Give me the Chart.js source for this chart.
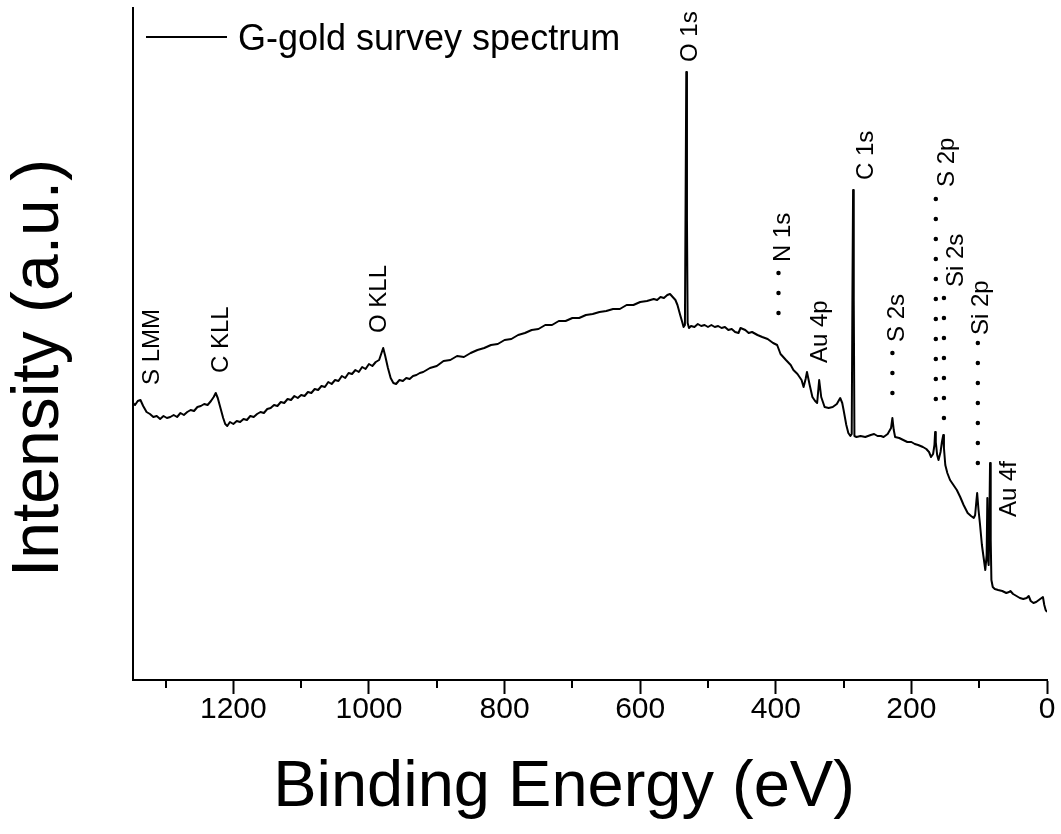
<!DOCTYPE html>
<html>
<head>
<meta charset="utf-8">
<script src="https://cdn.jsdelivr.net/npm/chart.js@4.4.0/dist/chart.umd.min.js"></script>
<style>
  html, body { margin: 0; padding: 0; background: #fff; }
  #wrap { width: 1061px; height: 834px; }
</style>
</head>
<body>
<div id="wrap"><canvas id="chart"></canvas></div>
<script>
// survey spectrum (binding energy in eV, intensity in a.u.)
const energy = [1348, 1345, 1341, 1337, 1333, 1328, 1323, 1318, 1313, 1308, 1303, 1298, 1293, 1288, 1283, 1278, 1273, 1268, 1263, 1258,
  1253, 1248, 1243, 1238, 1233, 1229, 1226, 1223, 1219, 1215, 1212, 1209, 1205, 1200, 1195, 1190, 1185, 1180, 1175, 1170,
  1165, 1160, 1155, 1150, 1145, 1140, 1135, 1130, 1125, 1120, 1115, 1110, 1105, 1100, 1095, 1090, 1085, 1080, 1075, 1070,
  1065, 1060, 1055, 1050, 1045, 1040, 1035, 1030, 1025, 1020, 1015, 1010, 1005, 1000, 995, 990, 985, 981, 979, 976,
  972, 968, 964, 960, 955, 950, 945, 940, 935, 930, 925, 920, 915, 910, 905, 900, 890, 880, 870, 860,
  850, 840, 830, 820, 810, 800, 790, 780, 770, 760, 750, 740, 730, 720, 710, 700, 690, 680, 670, 660,
  650, 640, 630, 620, 610, 600, 590, 580, 575, 570, 565, 560, 556, 552, 548, 545, 541, 538, 536, 534,
  533, 532, 531, 530, 528, 525, 520, 515, 510, 505, 500, 495, 490, 485, 480, 475, 470, 465, 460, 455,
  452, 445, 440, 435, 427, 420, 412, 404, 398, 393, 385, 378, 374, 368, 362, 359, 356, 354, 350, 346,
  342, 339, 336, 333, 328, 322, 316, 310, 305, 302, 300, 296, 293, 290, 288, 287, 286, 285, 284, 281,
  275, 268, 260, 255, 250, 245, 241, 235, 230, 228, 226, 224, 218, 212, 206, 200, 195, 190, 183, 178,
  174, 171, 168, 166, 165, 164, 162, 160, 157, 155, 153, 152, 150, 147, 143, 138, 133, 128, 123, 117,
  112, 108, 106, 104, 103, 101, 99, 96, 93, 91, 89, 88, 87, 86, 85, 84, 83, 82, 80, 77,
  72, 66, 60, 56, 54, 50, 45, 40, 35, 30, 27, 24, 20, 16, 12, 8, 6, 4, 2, 0];
const intensity = [277, 275, 279, 280, 274, 268, 266, 263, 264, 261, 264, 262, 263, 265, 263, 267, 265, 268, 270, 269,
  273, 274, 276, 275, 279, 283, 287, 282, 272, 262, 256, 254, 258, 256, 259, 258, 261, 260, 264, 263,
  266, 268, 267, 271, 272, 275, 274, 278, 277, 281, 280, 284, 282, 285, 284, 288, 287, 291, 290, 294,
  293, 298, 296, 300, 299, 304, 302, 307, 306, 310, 308, 313, 311, 316, 314, 318, 320, 328, 332, 324,
  312, 302, 297, 296, 300, 299, 302, 301, 304, 305, 307, 308, 310, 312, 313, 314, 319, 320, 324, 323,
  327, 330, 332, 335, 336, 340, 341, 345, 347, 350, 351, 355, 355, 359, 359, 362, 362, 365, 366, 368,
  369, 371, 371, 375, 375, 378, 379, 381, 380, 383, 382, 385, 386, 383, 380, 375, 365, 358, 353, 355,
  480, 608, 460, 357, 352, 354, 353, 356, 354, 355, 353, 355, 353, 354, 352, 353, 350, 351, 348, 347,
  352, 350, 347, 348, 345, 343, 341, 337, 335, 326, 320, 315, 310, 306, 300, 293, 301, 308, 295, 283,
  279, 277, 300, 283, 273, 272, 273, 276, 282, 277, 270, 255, 247, 244, 246, 380, 490, 380, 244, 243,
  244, 243, 245, 246, 244, 244, 243, 246, 252, 262, 250, 243, 242, 240, 238, 238, 236, 235, 233, 231,
  228, 223, 226, 235, 248, 238, 225, 220, 228, 238, 245, 232, 215, 207, 200, 195, 190, 183, 175, 167,
  164, 162, 165, 180, 187, 170, 157, 135, 120, 110, 125, 182, 120, 115, 160, 217, 140, 100, 93, 91,
  90, 89, 87, 88, 89, 86, 84, 82, 81, 82, 84, 79, 77, 78, 80, 82, 83, 75, 70, 68];

// x axis: labelled every 200 eV, short ticks in between
const xMin = 0;
const xMax = 1348;
const majorStep = 200;
const minorTicks = [100, 300, 500, 700, 900, 1100, 1300];

// peak labels (energy, intensity where the vertical text starts)
const peakNames = ['S LMM', 'C KLL', 'O KLL', 'O 1s', 'N 1s', 'Au 4p', 'C 1s', 'S 2s', 'S 2p', 'Si 2s', 'Si 2p', 'Au 4f'];
const peakEnergy = [1319, 1218, 985, 526, 389, 334, 266, 221, 147, 134, 97, 55];
const peakLabelY = [295, 307, 347, 618, 418, 317, 500, 338, 493, 393, 345, 163];

// dotted guide lines under some labels
const guideEnergy = [396, 228, 164, 152, 102];
const guideTop = [407, 327, 481, 382, 337];
const guideBottom = [347, 267, 261, 242, 197];

const xTitle = 'Binding Energy (eV)';
const yTitle = 'Intensity (a.u.)';

const FONT = 'Arial, "Liberation Sans", sans-serif';

const spectrum = energy.map((e, i) => ({ x: e, y: intensity[i] }));

const guideSets = guideEnergy.map((e, i) => ({
  label: 'guide' + i,
  data: [{ x: e, y: guideTop[i] }, { x: e, y: guideBottom[i] }],
  borderColor: '#000',
  borderWidth: 4.5,
  borderDash: [0, 20],
  borderCapStyle: 'round',
  pointRadius: 0,
  fill: false
}));

// peak names, minor ticks, legend and axis titles
const extras = {
  id: 'extras',
  afterDatasetsDraw(chart) {
    const { ctx, scales: { x, y } } = chart;
    ctx.save();
    ctx.fillStyle = '#000';
    ctx.font = '24px ' + FONT;
    ctx.textAlign = 'left';
    ctx.textBaseline = 'middle';
    peakNames.forEach((name, i) => {
      const px = x.getPixelForValue(peakEnergy[i]);
      const py = y.getPixelForValue(peakLabelY[i]);
      ctx.save();
      ctx.translate(px, py);
      ctx.rotate(-Math.PI / 2);
      ctx.fillText(name, 0, 0);
      ctx.restore();
    });

    // minor ticks
    ctx.strokeStyle = '#000';
    ctx.lineWidth = 2;
    const base = chart.chartArea.bottom;
    minorTicks.forEach(v => {
      const px = Math.round(x.getPixelForValue(v));
      ctx.beginPath();
      ctx.moveTo(px, base);
      ctx.lineTo(px, base + 8);
      ctx.stroke();
    });

    // legend
    const ly = 37;
    ctx.lineWidth = 2;
    ctx.beginPath();
    ctx.moveTo(146, ly);
    ctx.lineTo(227, ly);
    ctx.stroke();
    ctx.font = '36px ' + FONT;
    ctx.textBaseline = 'middle';
    ctx.fillText(chart.data.datasets[0].label, 238, ly + 3);

    // axis titles
    ctx.font = '65px ' + FONT;
    ctx.textAlign = 'center';
    ctx.textBaseline = 'alphabetic';
    ctx.fillText(xTitle, 564, 806);
    ctx.save();
    ctx.translate(58, 368);
    ctx.rotate(-Math.PI / 2);
    ctx.font = '66px ' + FONT;
    ctx.fillText(yTitle, 0, 0);
    ctx.restore();
    ctx.restore();
  }
};

new Chart(document.getElementById('chart'), {
  type: 'line',
  data: {
    datasets: [
      {
        label: 'G-gold survey spectrum',
        data: spectrum,
        borderColor: '#000',
        borderWidth: 2,
        borderJoinStyle: 'round',
        pointRadius: 0,
        tension: 0,
        fill: false
      },
      ...guideSets
    ]
  },
  options: {
    responsive: true,
    maintainAspectRatio: false,
    animation: false,
    layout: { padding: { top: 8, right: 14, left: 0, bottom: 0 } },
    plugins: {
      legend: { display: false },
      tooltip: { enabled: false }
    },
    scales: {
      x: {
        type: 'linear',
        reverse: true,
        min: xMin,
        max: xMax,
        afterFit: (scale) => { scale.height = 154; },
        border: { display: true, color: '#000', width: 2 },
        grid: { drawOnChartArea: false, drawTicks: true, tickLength: 14, tickWidth: 2, tickColor: '#000' },
        ticks: {
          stepSize: majorStep,
          includeBounds: false,
          maxRotation: 0,
          padding: -2,
          color: '#000',
          font: { family: FONT, size: 30 },
          callback: (v) => String(v)
        }
      },
      y: {
        min: 0,
        max: 672,
        afterFit: (scale) => { scale.width = 133; },
        border: { display: true, color: '#000', width: 2 },
        grid: { display: false },
        ticks: { display: false }
      }
    }
  },
  plugins: [extras]
});
</script>
</body>
</html>
